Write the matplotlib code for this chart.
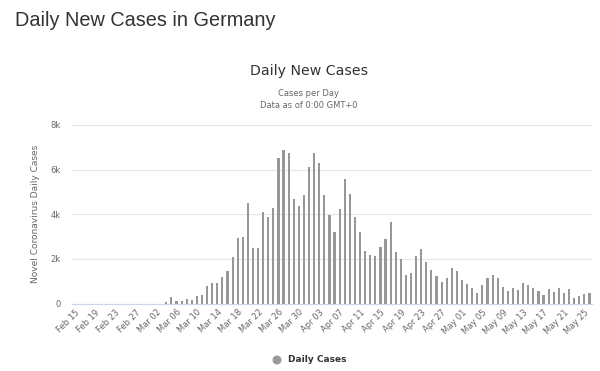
import matplotlib
matplotlib.use("Agg")
import matplotlib.pyplot as plt
import numpy as np
import datetime as dt

start = dt.date(2020, 2, 15)
n_days = 102
dates = [start + dt.timedelta(days=i) for i in range(n_days)]
categories = [d.strftime("%b %d") for d in dates]

daily_cases = [0] * 18 + [
    45, 270, 90, 90, 195, 165, 315, 390, 764, 899, 899, 1183, 1453, 2067, 2936, 2966,
    4494, 2472, 2472, 4105, 3895, 4269, 6531, 6891, 6756, 4674, 4389, 4869, 6097, 6726, 6277, 4869, 3970,
    3221, 4224, 5588, 4899, 3895, 3221, 2367, 2172, 2112, 2517, 2891, 3640, 2307, 1992, 1273, 1363,
    2142, 2442, 1858, 1483, 1213, 959, 1138, 1588, 1453, 1034, 869, 689, 464, 839, 1138, 1258, 1138,
    734, 554, 689, 584, 914, 839, 689, 554, 390, 629, 509, 689, 464, 659, 240, 330, 420, 449,
]
y_ticks = [0, 2000, 4000, 6000, 8000]
y_tick_labels = ["0", "2k", "4k", "6k", "8k"]

W, H = 600, 371
fig = plt.figure(figsize=(W / 100, H / 100), dpi=100)
fig.patch.set_facecolor("white")

def px(x, y):
    return x / W, 1 - y / H

left, right, top, bottom = 72, 592, 125, 303.5
ax = fig.add_axes([left / W, 1 - bottom / H, (right - left) / W, (bottom - top) / H])

x = np.arange(len(daily_cases))
ax.bar(x, daily_cases, width=0.42, color="#979797", linewidth=0, zorder=3)
ax.set_xlim(-0.5, len(daily_cases) - 0.5)
ax.set_ylim(0, 8000)
ax.set_yticks(y_ticks)
ax.set_yticklabels(y_tick_labels, fontsize=6, color="#666666", family="DejaVu Sans")
ax.yaxis.grid(True, color="#e6e6e6", linewidth=0.8, zorder=0)
ax.tick_params(axis="y", length=0, pad=8)
ax.tick_params(axis="x", length=0, pad=3)
for s in ["top", "right", "left"]:
    ax.spines[s].set_visible(False)
ax.spines["bottom"].set_color("#ccd6eb")
ax.spines["bottom"].set_linewidth(0.8)

tick_pos = x[::4]
ax.set_xticks(tick_pos)
ax.set_xticklabels([categories[i] for i in tick_pos], rotation=45, ha="right", va="top",
                   rotation_mode="anchor", fontsize=6, color="#666666", family="DejaVu Sans")

ax.set_ylabel("Novel Coronavirus Daily Cases", fontsize=6.5, color="#666666", family="DejaVu Sans", labelpad=8)

fig.text(*px(15, 20), "Daily New Cases in Germany", fontsize=14.3, color="#333333",
         family="Liberation Sans", ha="left", va="center")
fig.text(*px(309, 71), "Daily New Cases", fontsize=10.2, color="#333333",
         family="DejaVu Sans", ha="center", va="center")
fig.text(*px(309, 93), "Cases per Day", fontsize=6, color="#666666",
         family="DejaVu Sans", ha="center", va="center")
fig.text(*px(309, 106), "Data as of 0:00 GMT+0", fontsize=6, color="#666666",
         family="DejaVu Sans", ha="center", va="center")

# legend
fig.patches.append(matplotlib.patches.Ellipse(px(277, 360), 9 / W, 9 / H, transform=fig.transFigure,
                                              facecolor="#9a9a9a", edgecolor="none"))
fig.text(*px(288, 360), "Daily Cases", fontsize=6.5, color="#333333", fontweight="bold",
         family="DejaVu Sans", ha="left", va="center")

fig.savefig("out.png", dpi=100, facecolor="white")
